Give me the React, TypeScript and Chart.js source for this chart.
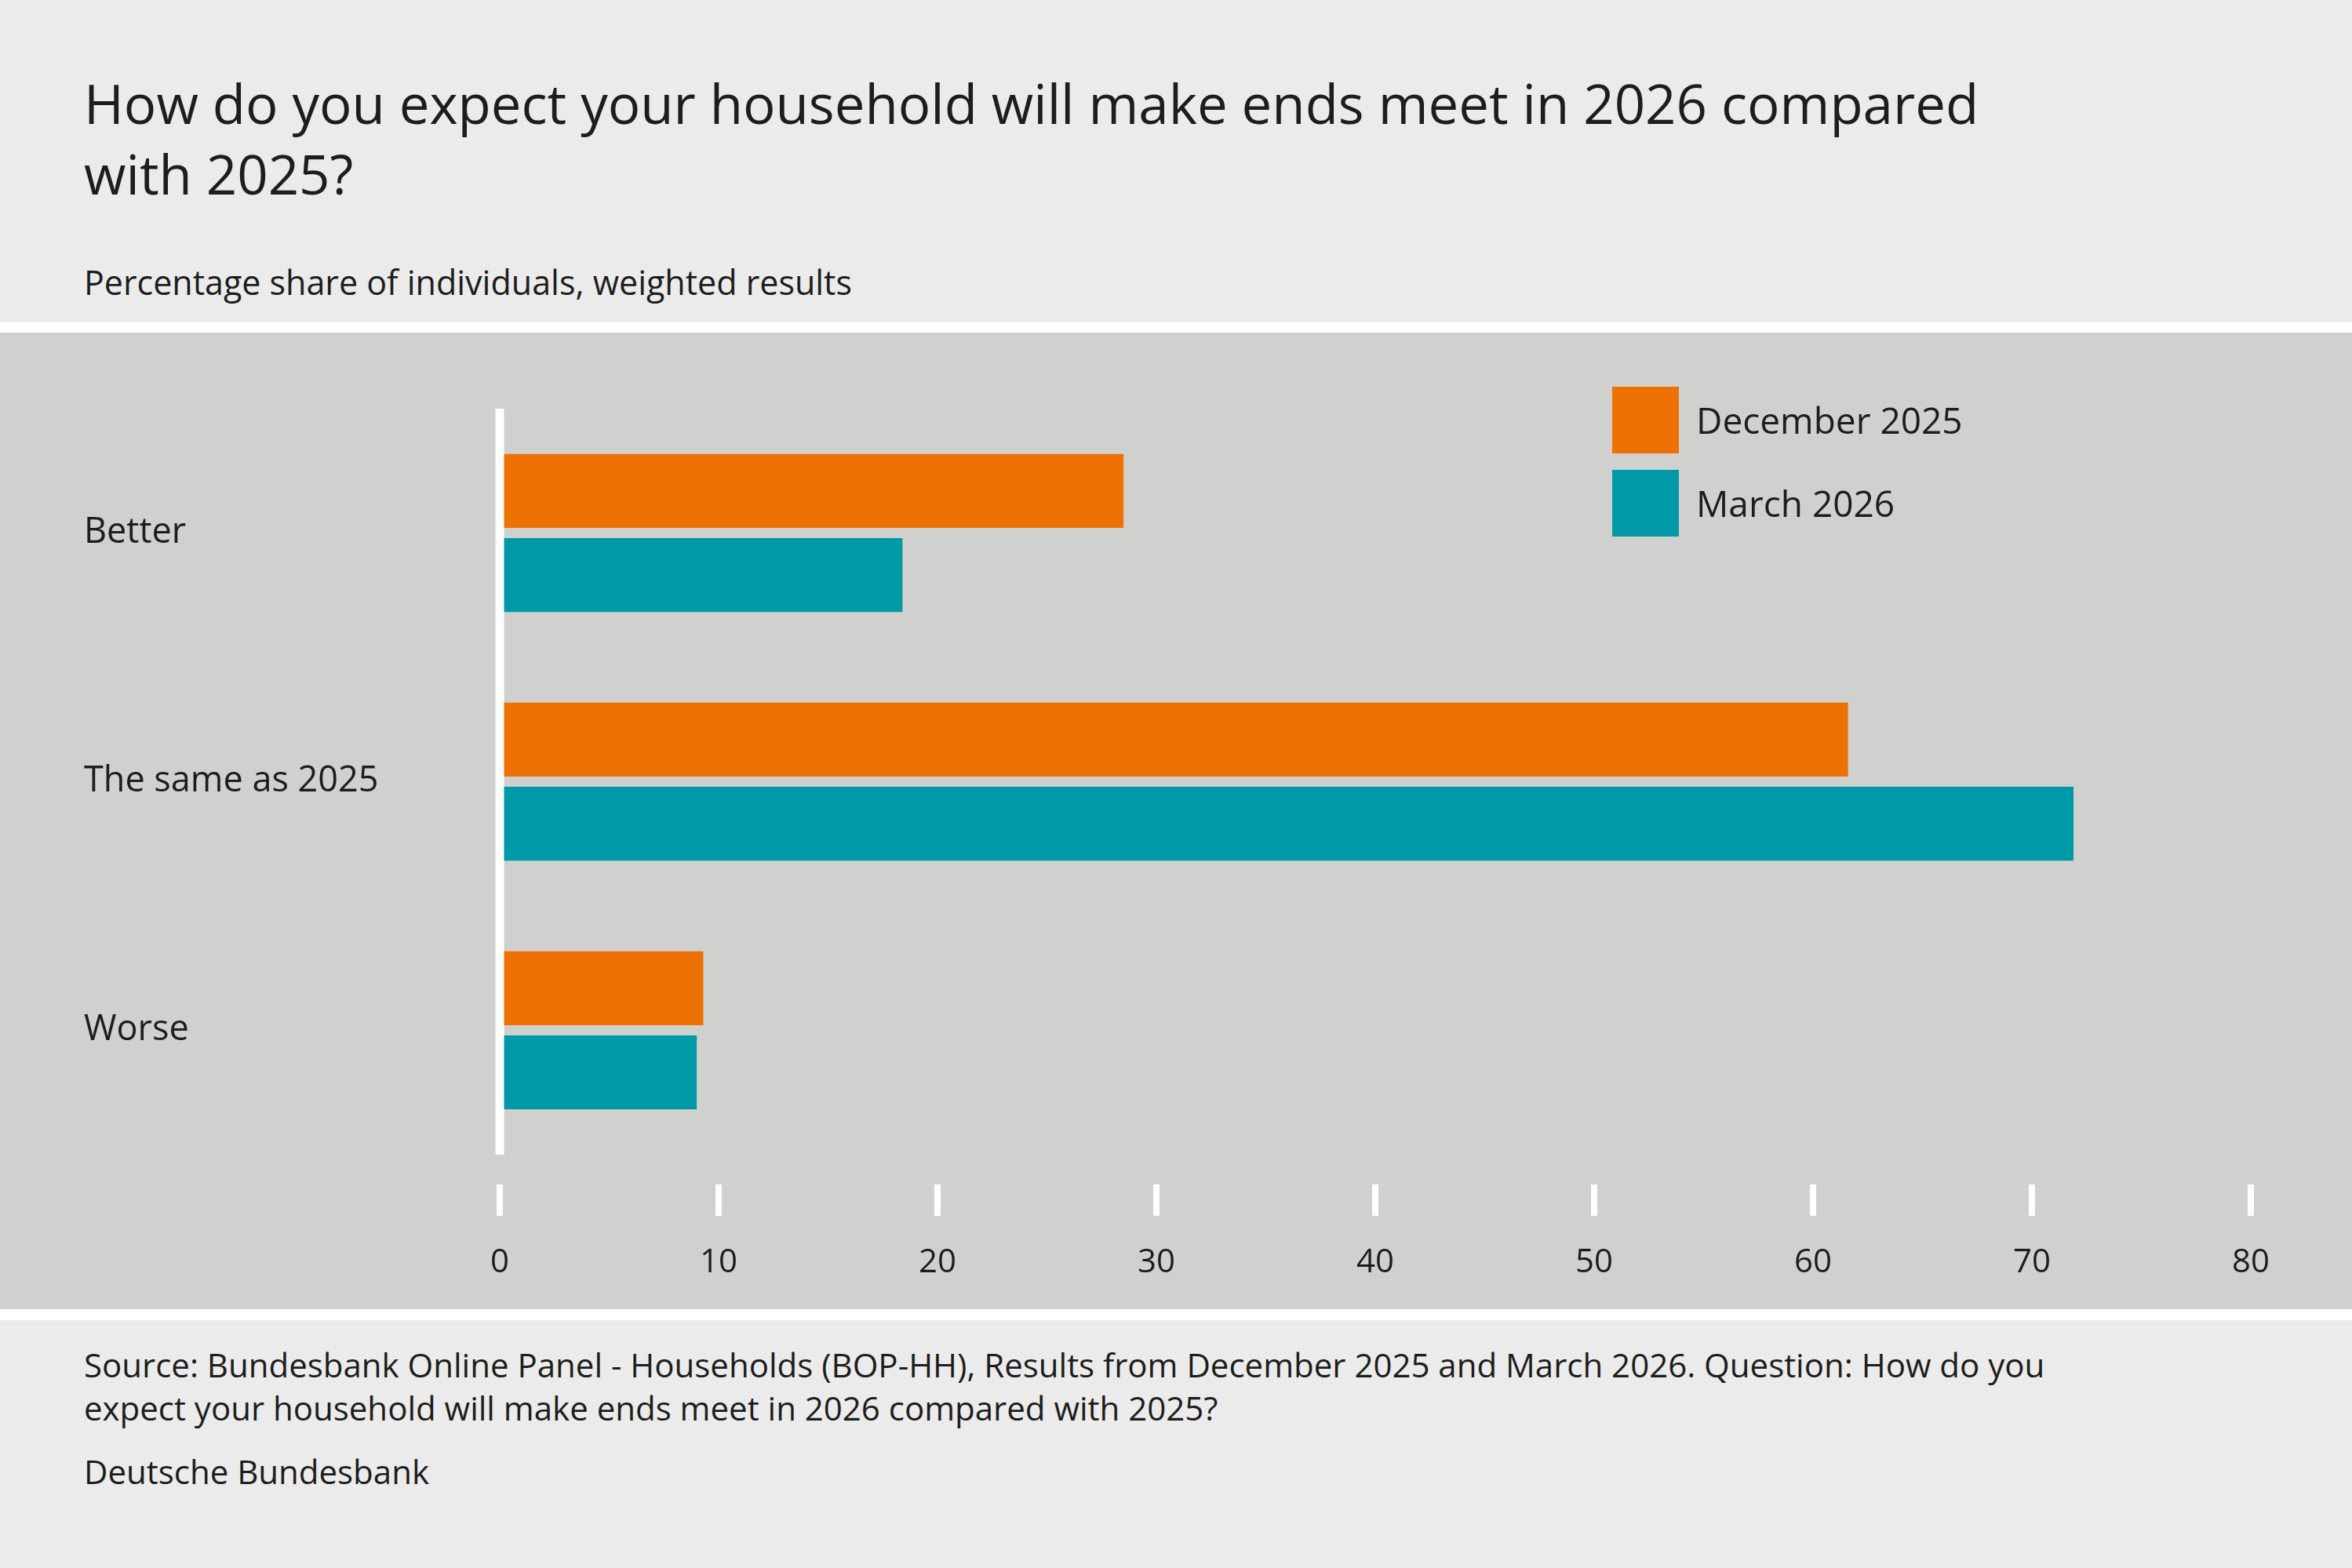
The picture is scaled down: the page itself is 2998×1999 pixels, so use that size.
import React, { useEffect, useRef } from "react";
import { Chart, registerables } from "chart.js";
Chart.register(...registerables);

const categories = ["Better", "The same as 2025", "Worse"];
const seriesNames = ["December 2025", "March 2026"];
const december2025 = [28.5, 61.6, 9.3];
const march2026 = [18.4, 71.9, 9.0];
const xTicks = [0, 10, 20, 30, 40, 50, 60, 70, 80];
const colors = ["#ee7203", "#0099a8"];

const FONT = "'Open Sans', 'Noto Sans', sans-serif";
const TEXT = "#1d1d1b";

const decoPlugin = {
  id: "deco",
  afterDatasetsDraw(chart: any) {
    const { ctx, chartArea, scales } = chart;
    ctx.save();
    ctx.fillStyle = "#ffffff";
    const x0 = scales.x.getPixelForValue(0);
    ctx.fillRect(x0 - 5.5, chartArea.top, 11, chartArea.bottom - chartArea.top);
    xTicks.forEach((v) => {
      const x = scales.x.getPixelForValue(v);
      ctx.fillRect(x - 4, chartArea.bottom + 38, 8, 40);
    });
    ctx.restore();
  },
};

export default function App() {
  const ref = useRef<HTMLCanvasElement>(null);
  useEffect(() => {
    document.body.style.margin = "0";
    const chart = new Chart(ref.current!, {
      type: "bar",
      data: {
        labels: categories,
        datasets: [
          { label: seriesNames[0], data: december2025, backgroundColor: colors[0] },
          { label: seriesNames[1], data: march2026, backgroundColor: colors[1] },
        ],
      },
      options: {
        indexAxis: "y",
        animation: false,
        responsive: false,
        devicePixelRatio: 1,
        categoryPercentage: 0.677,
        barPercentage: 0.88,
        layout: { padding: { left: 107, right: 128, top: 97, bottom: 0 } },
        plugins: { legend: { display: false }, tooltip: { enabled: false } },
        scales: {
          x: {
            min: 0,
            max: 80,
            afterBuildTicks: (s: any) => { s.ticks = xTicks.map((v) => ({ value: v })); },
            afterFit: (s: any) => { s.height = 197; },
            grid: { display: false },
            border: { display: false },
            ticks: { padding: 105, color: TEXT, font: { family: FONT, size: 42 } },
          },
          y: {
            afterFit: (s: any) => { s.width = 530; },
            grid: { display: false },
            border: { display: false },
            ticks: { crossAlign: "far", color: TEXT, font: { family: FONT, size: 45, weight: 500 } },
          },
        },
      },
      plugins: [decoPlugin],
    } as any);
    return () => chart.destroy();
  }, []);

  const abs = (s: React.CSSProperties): React.CSSProperties => ({ position: "absolute", margin: 0, ...s });
  return (
    <div style={{ position: "relative", width: 2998, height: 1999, background: "#ebebeb", fontFamily: FONT, color: TEXT, overflow: "hidden" }}>
      <div style={abs({ left: 107, top: 86, fontSize: 69, fontWeight: 500, lineHeight: "90px", width: 2700 })}>
        How do you expect your household will make ends meet in 2026 compared<br />with 2025?
      </div>
      <div style={abs({ left: 107, top: 330, fontSize: 43 })}>Percentage share of individuals, weighted results</div>
      <div style={abs({ left: 0, top: 411, width: 2998, height: 13, background: "#fff" })} />
      <div style={abs({ left: 0, top: 424, width: 2998, height: 1245, background: "#d0d0cf" })}>
        <canvas ref={ref} width={2998} height={1245} style={{ display: "block" }} />
      </div>
      <div style={abs({ left: 0, top: 1669, width: 2998, height: 14, background: "#fff" })} />
      {seriesNames.map((n, i) => (
        <React.Fragment key={n}>
          <div style={abs({ left: 2055, top: 493 + i * 106, width: 85, height: 85, background: colors[i] })} />
          <div style={abs({ left: 2162, top: 504 + i * 106, fontSize: 46, fontWeight: 500, lineHeight: "62px" })}>{n}</div>
        </React.Fragment>
      ))}
      <div style={abs({ left: 107, top: 1712, fontSize: 42, lineHeight: "55px", width: 2800 })}>
        Source: Bundesbank Online Panel - Households (BOP-HH), Results from December 2025 and March 2026. Question: How do you<br />
        expect your household will make ends meet in 2026 compared with 2025?
      </div>
      <div style={abs({ left: 107, top: 1848, fontSize: 42, lineHeight: "55px" })}>Deutsche Bundesbank</div>
    </div>
  );
}
